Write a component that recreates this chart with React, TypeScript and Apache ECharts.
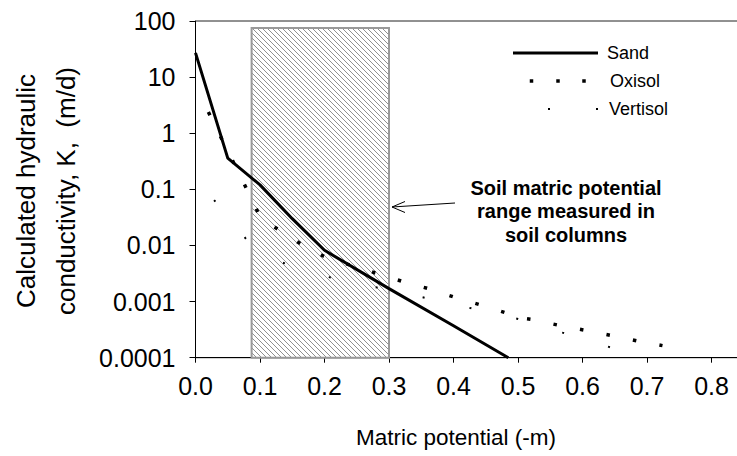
import React, { useEffect, useRef } from "react";
import * as echarts from "echarts";

// ---- data ----
const sandX = [0, 0.05, 0.1, 0.15, 0.2, 0.3, 0.4, 0.485];
const sandK = [27, 0.36, 0.12, 0.03, 0.0082, 0.0017, 0.00037, 0.0001];

const oxisolX = [0.009, 0.029, 0.049, 0.069, 0.09, 0.101, 0.118, 0.158, 0.198, 0.224, 0.28, 0.32, 0.361, 0.401, 0.441, 0.481, 0.506, 0.522, 0.5625, 0.603, 0.644, 0.684, 0.724];
const oxisolK = [4.3, 1.47, 0.51, 0.175, 0.058, 0.03, 0.023, 0.0116, 0.0065, 0.0051, 0.0032, 0.0023, 0.0017, 0.0012, 0.00088, 0.00063, 0.00051, 0.00048, 0.00038, 0.00031, 0.00025, 0.0002, 0.000164];

const vertisolX = [0.019, 0.081, 0.101, 0.131, 0.152, 0.202, 0.226, 0.374, 0.448, 0.5, 0.549, 0.569, 0.643];
const vertisolK = [0.088, 0.012, 0.0065, 0.0051, 0.0043, 0.0028, 0.00245, 0.00105, 0.00067, 0.00049, 0.00033, 0.00028, 0.000153];

// measured matric potential range (shaded box)
const shadedRange = [0.087, 0.3];
const shadedTopK = 75;

const seriesNames = ["Sand", "Oxisol", "Vertisol"];
const annotationLines = ["Soil matric potential", "range measured in", "soil columns"];
const xTitle = "Matric potential (-m)";
const yTitleLines = ["Calculated hydraulic", "conductivity, K,  (m/d)"];

const X_MIN = 0;
const X_MAX = 0.9;
const X_STEP = 0.1;
const Y_MIN = 0.0001;
const Y_MAX = 100;

const FONT = "'Liberation Sans', Arial, Helvetica, sans-serif";

const OX_DASH = [3.5, 23.5];
const VE_DASH = [2, 46];

function zip(xs: number[], ys: number[]) {
  return xs.map((x, i) => [x, ys[i]]);
}

function txt(x: number, y: number, text: string, opts: any = {}) {
  const align = opts.align || "left";
  const va = opts.verticalAlign || "middle";
  return {
    type: "text",
    x,
    y,
    rotation: opts.rotation || 0,
    silent: true,
    style: {
      text,
      fill: "#000",
      fontSize: opts.fontSize || 20,
      fontFamily: FONT,
      fontWeight: opts.fontWeight || "normal",
      lineHeight: opts.lineHeight,
      align,
      textAlign: align,
      verticalAlign: va,
      textVerticalAlign: va,
    },
  };
}

export default function App() {
  const ref = useRef<HTMLDivElement>(null);

  useEffect(() => {
    const chart = echarts.init(ref.current!, undefined, { renderer: "svg" });

    const renderShade = (_params: any, api: any) => {
      const p0 = api.coord([api.value(0), api.value(2)]);
      const p1 = api.coord([api.value(1), Y_MIN]);
      const x0 = p0[0], y0 = p0[1], x1 = p1[0], y1 = p1[1];
      const children: any[] = [];
      const step = 5;
      // lines y = x + c going down-right
      const cStart = y0 - x1;
      const cEnd = y1 - x0;
      for (let c = cStart + 2; c < cEnd; c += step) {
        const xa = Math.max(x0, y0 - c);
        const xb = Math.min(x1, y1 - c);
        if (xb <= xa) continue;
        children.push({
          type: "line",
          shape: { x1: xa, y1: xa + c, x2: xb, y2: xb + c },
          style: { stroke: "#909090", lineWidth: 1 },
        });
      }
      children.push({
        type: "rect",
        shape: { x: x0, y: y0, width: x1 - x0, height: y1 - y0 },
        style: { fill: "none", stroke: "#999", lineWidth: 2 },
      });
      return { type: "group", children };
    };

    const graphics: any[] = [
      // y axis title (two rotated lines)
      txt(26, 191, yTitleLines[0], { rotation: Math.PI / 2, align: "center", fontSize: 26 }),
      txt(66, 191, yTitleLines[1], { rotation: Math.PI / 2, align: "center", fontSize: 26 }),
      // x axis title
      txt(456, 437, xTitle, { align: "center", fontSize: 22.5 }),
      // annotation
      txt(566, 211, annotationLines.join("\n"), { align: "center", fontSize: 20, fontWeight: "bold", lineHeight: 23.5 }),
      {
        type: "line",
        silent: true,
        shape: { x1: 455, y1: 203, x2: 392, y2: 207 },
        style: { stroke: "#000", lineWidth: 1 },
      },
      {
        type: "polyline",
        silent: true,
        shape: { points: [[405, 201.5], [392, 207], [405, 212.5]] },
        style: { stroke: "#000", lineWidth: 1, fill: "none" },
      },
      // legend
      {
        type: "line",
        silent: true,
        shape: { x1: 513, y1: 53, x2: 598, y2: 53 },
        style: { stroke: "#000", lineWidth: 3 },
      },
      ...[531.5, 558, 584].map((x) => ({
        type: "rect",
        silent: true,
        shape: { x: x - 1.75, y: 79.25, width: 3.5, height: 3.5 },
        style: { fill: "#000" },
      })),
      ...[549, 597].map((x) => ({
        type: "rect",
        silent: true,
        shape: { x: x - 1, y: 108, width: 2, height: 2 },
        style: { fill: "#000" },
      })),
      txt(607, 53, seriesNames[0], { fontSize: 18 }),
      txt(610, 81, seriesNames[1], { fontSize: 18 }),
      txt(609, 109, seriesNames[2], { fontSize: 18 }),
    ];

    chart.setOption({
      animation: false,
      backgroundColor: "#fff",
      textStyle: { fontFamily: FONT },
      grid: {
        left: 195.5,
        top: 21,
        width: 580.5,
        height: 336.7,
        show: true,
        borderColor: "#222",
        borderWidth: 1,
        containLabel: false,
        outerBoundsMode: "none",
      },
      xAxis: {
        type: "value",
        min: X_MIN,
        max: X_MAX,
        interval: X_STEP,
        axisLine: { show: true, onZero: false, lineStyle: { color: "#000", width: 1 } },
        axisTick: { show: true, length: 5, lineStyle: { color: "#000" } },
        axisLabel: {
          fontSize: 25,
          color: "#000",
          margin: 16,
          showMaxLabel: false,
          formatter: (v: number) => v.toFixed(1),
        },
        splitLine: { show: false },
      },
      yAxis: {
        type: "log",
        logBase: 10,
        min: Y_MIN,
        max: Y_MAX,
        axisLine: { show: true, lineStyle: { color: "#000", width: 1 } },
        axisTick: { show: true, length: 6, lineStyle: { color: "#000" } },
        axisLabel: {
          fontSize: 25,
          color: "#000",
          margin: 20,
          formatter: (v: number) => {
            const e = Math.round(Math.log10(v));
            return e >= 0 ? String(Math.round(v)) : v.toFixed(-e);
          },
        },
        splitLine: { show: false },
        minorTick: { show: false },
      },
      series: [
        {
          type: "custom",
          name: "range",
          renderItem: renderShade,
          data: [[shadedRange[0], shadedRange[1], shadedTopK]],
          encode: { x: [0, 1], y: 2 },
          silent: true,
          z: 1,
        },
        {
          type: "line",
          name: seriesNames[0],
          data: zip(sandX, sandK),
          symbol: "none",
          lineStyle: { color: "#000", width: 3 },
          z: 3,
        },
        {
          type: "line",
          name: seriesNames[1],
          data: zip(oxisolX, oxisolK),
          symbol: "none",
          lineStyle: { color: "#000", width: 3.5, type: OX_DASH, cap: "butt" },
          z: 3,
        },
        {
          type: "line",
          name: seriesNames[2],
          data: zip(vertisolX, vertisolK),
          symbol: "none",
          lineStyle: { color: "#000", width: 2, type: VE_DASH, cap: "butt" },
          z: 3,
        },
      ],
      graphic: graphics,
    });

    // align the dash pattern so that a dot falls on the last point of each dotted curve
    const pathLength = (xs: number[], ys: number[]) => {
      let len = 0;
      let prev: number[] | null = null;
      for (let i = 0; i < xs.length; i++) {
        const p = chart.convertToPixel({ gridIndex: 0 }, [xs[i], ys[i]]) as number[];
        if (prev) len += Math.hypot(p[0] - prev[0], p[1] - prev[1]);
        prev = p;
      }
      return len;
    };
    const offsetFor = (len: number, dash: number[]) => {
      const period = dash[0] + dash[1];
      return (((dash[0] - len) % period) + period) % period;
    };
    try {
      const oxOff = offsetFor(pathLength(oxisolX, oxisolK), OX_DASH);
      const veOff = offsetFor(pathLength(vertisolX, vertisolK), VE_DASH);
      chart.setOption({
        series: [
          {},
          {},
          { lineStyle: { dashOffset: oxOff } },
          { lineStyle: { dashOffset: veOff } },
        ],
      });
    } catch (e) {
      // keep default dash phase
    }

    return () => chart.dispose();
  }, []);

  return (
    <div
      ref={ref}
      style={{ position: "absolute", left: 0, top: 0, width: 737, height: 456, background: "#fff" }}
    />
  );
}
